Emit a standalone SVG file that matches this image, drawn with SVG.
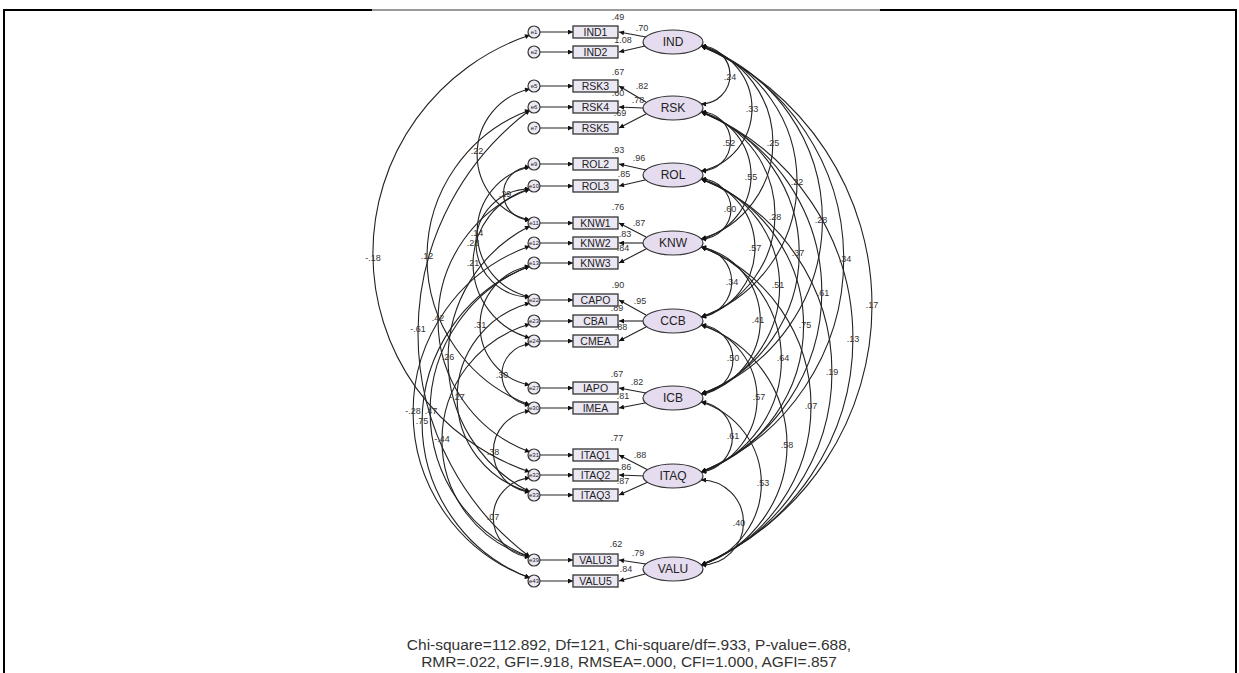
<svg xmlns="http://www.w3.org/2000/svg" width="1239" height="673" viewBox="0 0 1239 673">
<style>
.lbl{font-family:"Liberation Sans",Arial,sans-serif;font-size:9px;fill:#333;text-anchor:middle}
.box{fill:#ebe7f3;stroke:#333;stroke-width:1.3}
.ell{fill:#e6dcef;stroke:#333;stroke-width:1.2}
.err{fill:#ece8f4;stroke:#333;stroke-width:1.2}
.bt{font-family:"Liberation Sans",Arial,sans-serif;font-size:10.5px;fill:#222;text-anchor:middle}
.et{font-family:"Liberation Sans",Arial,sans-serif;font-size:12px;fill:#222;text-anchor:middle}
.ct{font-family:"Liberation Sans",Arial,sans-serif;font-size:6px;fill:#222;text-anchor:middle}
.con{fill:none;stroke:#222;stroke-width:1.1}
.cov{fill:none;stroke:#222;stroke-width:1.1;marker-start:url(#ah);marker-end:url(#ah)}
.one{marker-end:url(#ah)}
.fit{font-family:"Liberation Sans",Arial,sans-serif;font-size:15.5px;fill:#333;text-anchor:middle}
</style>
<defs>
<marker id="ah" viewBox="0 0 10 10" refX="10" refY="5" markerWidth="8" markerHeight="5" orient="auto-start-reverse" markerUnits="userSpaceOnUse"><path d="M0,0 L10,5 L0,10 z" fill="#111"/></marker>
</defs>
<rect width="1239" height="673" fill="#fff"/>
<g id="frame" fill="none" stroke="#000">
<path d="M4,673 V10 H372" stroke-width="2"/>
<path d="M372,10 H880" stroke-width="0.8"/>
<path d="M880,10 H1236 V673" stroke-width="2"/>
</g>

<g id="connectors">
<g class="con one">
<path d="M540,32 H573"/><path d="M540,52 H573"/><path d="M540,86 H573"/><path d="M540,107 H573"/><path d="M540,128 H573"/>
<path d="M540,164 H573"/><path d="M540,186 H573"/><path d="M540,223 H573"/><path d="M540,243 H573"/><path d="M540,263 H573"/>
<path d="M540,300 H573"/><path d="M540,321 H573"/><path d="M540,341 H573"/><path d="M540,388 H573"/><path d="M540,408 H573"/>
<path d="M540,455 H573"/><path d="M540,475 H573"/><path d="M540,495 H573"/><path d="M540,560 H573"/><path d="M540,581 H573"/>
</g>
<g class="con one">
<path d="M646,37 L619,32"/><path d="M645,46 L619,52"/>
<path d="M646,102 L619,86"/><path d="M643,108 L619,107"/><path d="M646,114 L619,128"/>
<path d="M646,170 L619,164"/><path d="M645,180 L619,186"/>
<path d="M646,237 L619,223"/><path d="M643,243 L619,243"/><path d="M646,249 L619,263"/>
<path d="M646,315 L619,300"/><path d="M643,321 L619,321"/><path d="M646,327 L619,341"/>
<path d="M646,393 L619,388"/><path d="M645,403 L619,408"/>
<path d="M648,470 L619,455"/><path d="M645,476 L619,475"/><path d="M648,482 L619,495"/>
<path d="M646,564 L619,560"/><path d="M645,574 L619,581"/>
</g>
<g class="cov">
<path d="M701,46 A29,29 0 0 1 701,104"/>
<path d="M701,46 A63.8,63.8 0 0 1 701,171"/>
<path d="M701,112 A29.5,29.5 0 0 1 701,171"/>
<path d="M701,46 A100.7,100.7 0 0 1 701,239"/>
<path d="M701,112 A65.3,65.3 0 0 1 701,239"/>
<path d="M701,46 A143.6,143.6 0 0 1 701,317"/>
<path d="M701,179 A30,30 0 0 1 701,239"/>
<path d="M701,112 A108,108 0 0 1 701,317"/>
<path d="M701,46 A185.4,185.4 0 0 1 701,394"/>
<path d="M701,179 A71.1,71.1 0 0 1 701,317"/>
<path d="M701,112 A150.3,150.3 0 0 1 701,394"/>
<path d="M701,46 A230.3,230.3 0 0 1 701,472"/>
<path d="M701,247 A35.3,35.3 0 0 1 701,317"/>
<path d="M701,179 A112.8,112.8 0 0 1 701,394"/>
<path d="M701,112 A194.5,194.5 0 0 1 701,472"/>
<path d="M701,46 A282.4,282.4 0 0 1 701,565"/>
<path d="M701,247 A75.2,75.2 0 0 1 701,394"/>
<path d="M701,179 A155.9,155.9 0 0 1 701,472"/>
<path d="M701,112 A244.8,244.8 0 0 1 701,565"/>
<path d="M701,325 A34.6,34.6 0 0 1 701,394"/>
<path d="M701,247 A118.9,118.9 0 0 1 701,472"/>
<path d="M701,179 A207.7,207.7 0 0 1 701,565"/>
<path d="M701,325 A76.2,76.2 0 0 1 701,472"/>
<path d="M701,247 A169.9,169.9 0 0 1 701,565"/>
<path d="M701,402 A35.2,35.2 0 0 1 701,472"/>
<path d="M701,325 A126.7,126.7 0 0 1 701,565"/>
<path d="M701,402 A85.2,85.2 0 0 1 701,565"/>
<path d="M701,480 A42.2,42.2 0 0 1 701,565"/>
</g>
<g class="cov">
<path d="M530,35 A230.5,230.5 0 0 0 530,472"/>
<path d="M530,110 A157.1,157.1 0 0 0 530,405"/>
<path d="M530,89 A67,67 0 0 0 530,220"/>
<path d="M530,167 A26.5,26.5 0 0 0 530,220"/>
<path d="M530,167 A66.4,66.4 0 0 0 530,297"/>
<path d="M530,189 A54,54 0 0 0 530,297"/>
<path d="M530,189 A77.2,77.2 0 0 0 530,338"/>
<path d="M530,189 A140,140 0 0 0 530,452"/>
<path d="M530,110 A279,279 0 0 0 530,557"/>
<path d="M530,266 A60.4,60.4 0 0 0 530,385"/>
<path d="M530,226 A148.9,148.9 0 0 0 530,492"/>
<path d="M530,344 A30.6,30.6 0 0 0 530,405"/>
<path d="M530,303 A97.7,97.7 0 0 0 530,492"/>
<path d="M530,246 A176.3,176.3 0 0 0 530,578"/>
<path d="M530,266 A155.9,155.9 0 0 0 530,557"/>
<path d="M530,266 A166.7,166.7 0 0 0 530,578"/>
<path d="M530,324 A121.1,121.1 0 0 0 530,557"/>
<path d="M530,411 A40.7,40.7 0 0 0 530,492"/>
<path d="M530,478 A39.6,39.6 0 0 0 530,557"/>
</g>
</g>

<g id="covariance-labels">
<text class="lbl" x="730" y="80">.24</text>
<text class="lbl" x="752" y="112">.33</text>
<text class="lbl" x="729" y="146">.52</text>
<text class="lbl" x="773" y="146">.25</text>
<text class="lbl" x="751" y="180">.55</text>
<text class="lbl" x="797" y="185">.22</text>
<text class="lbl" x="730" y="212">.60</text>
<text class="lbl" x="775" y="220">.28</text>
<text class="lbl" x="821" y="223">.28</text>
<text class="lbl" x="755" y="251">.57</text>
<text class="lbl" x="798" y="256">.37</text>
<text class="lbl" x="845" y="262">.34</text>
<text class="lbl" x="732" y="285">.34</text>
<text class="lbl" x="778" y="288">.51</text>
<text class="lbl" x="823" y="296">.61</text>
<text class="lbl" x="872" y="308">.17</text>
<text class="lbl" x="758" y="323">.41</text>
<text class="lbl" x="805" y="328">.75</text>
<text class="lbl" x="853" y="342">.13</text>
<text class="lbl" x="733" y="361">.50</text>
<text class="lbl" x="783" y="361">.64</text>
<text class="lbl" x="832" y="375">.19</text>
<text class="lbl" x="759" y="400">.57</text>
<text class="lbl" x="811" y="409">.07</text>
<text class="lbl" x="733" y="439">.61</text>
<text class="lbl" x="787" y="448">.58</text>
<text class="lbl" x="763" y="486">.53</text>
<text class="lbl" x="739" y="526">.40</text>
<text class="lbl" x="373" y="261">-.18</text>
<text class="lbl" x="427" y="259">.12</text>
<text class="lbl" x="477" y="154">.22</text>
<text class="lbl" x="505" y="197">.29</text>
<text class="lbl" x="477" y="236">.14</text>
<text class="lbl" x="473" y="246">.28</text>
<text class="lbl" x="473" y="266">.21</text>
<text class="lbl" x="438" y="321">.42</text>
<text class="lbl" x="418" y="332">-.61</text>
<text class="lbl" x="480" y="328">.31</text>
<text class="lbl" x="448" y="360">.26</text>
<text class="lbl" x="502" y="378">.30</text>
<text class="lbl" x="457" y="400">-.27</text>
<text class="lbl" x="413" y="414">-.28</text>
<text class="lbl" x="431" y="414">.47</text>
<text class="lbl" x="422" y="424">.75</text>
<text class="lbl" x="442" y="442">-.44</text>
<text class="lbl" x="493" y="455">.38</text>
<text class="lbl" x="493" y="520">.07</text>
</g>

<g id="loading-labels">
<text class="lbl" x="618" y="20">.49</text><text class="lbl" x="642" y="31">.70</text><text class="lbl" x="623" y="43">1.08</text>
<text class="lbl" x="618" y="75">.67</text><text class="lbl" x="642" y="89">.82</text><text class="lbl" x="618" y="96">.60</text><text class="lbl" x="638" y="103">.78</text><text class="lbl" x="620" y="116">.69</text>
<text class="lbl" x="618" y="153">.93</text><text class="lbl" x="639" y="161">.96</text><text class="lbl" x="624" y="177">.85</text>
<text class="lbl" x="618" y="210">.76</text><text class="lbl" x="639" y="226">.87</text><text class="lbl" x="625" y="237">.83</text><text class="lbl" x="623" y="251">.84</text>
<text class="lbl" x="618" y="288">.90</text><text class="lbl" x="640" y="304">.95</text><text class="lbl" x="617" y="311">.89</text><text class="lbl" x="621" y="330">.88</text>
<text class="lbl" x="617" y="377">.67</text><text class="lbl" x="637" y="385">.82</text><text class="lbl" x="623" y="399">.81</text>
<text class="lbl" x="617" y="441">.77</text><text class="lbl" x="640" y="458">.88</text><text class="lbl" x="625" y="470">.86</text><text class="lbl" x="623" y="484">.87</text>
<text class="lbl" x="616" y="547">.62</text><text class="lbl" x="638" y="556">.79</text><text class="lbl" x="626" y="572">.84</text>
</g>

<g id="e1"><circle class="err" cx="534" cy="32" r="6"/><text class="ct" x="534" y="34">e1</text></g>
<g id="e2"><circle class="err" cx="534" cy="52" r="6"/><text class="ct" x="534" y="54">e2</text></g>
<g id="e5"><circle class="err" cx="534" cy="86" r="6"/><text class="ct" x="534" y="88">e5</text></g>
<g id="e6"><circle class="err" cx="534" cy="107" r="6"/><text class="ct" x="534" y="109">e6</text></g>
<g id="e7"><circle class="err" cx="534" cy="128" r="6"/><text class="ct" x="534" y="130">e7</text></g>
<g id="e9"><circle class="err" cx="534" cy="164" r="6"/><text class="ct" x="534" y="166">e9</text></g>
<g id="e10"><circle class="err" cx="534" cy="186" r="6"/><text class="ct" x="534" y="188">e10</text></g>
<g id="e11"><circle class="err" cx="534" cy="223" r="6"/><text class="ct" x="534" y="225">e11</text></g>
<g id="e12"><circle class="err" cx="534" cy="243" r="6"/><text class="ct" x="534" y="245">e12</text></g>
<g id="e13"><circle class="err" cx="534" cy="263" r="6"/><text class="ct" x="534" y="265">e13</text></g>
<g id="e22"><circle class="err" cx="534" cy="300" r="6"/><text class="ct" x="534" y="302">e22</text></g>
<g id="e23"><circle class="err" cx="534" cy="321" r="6"/><text class="ct" x="534" y="323">e23</text></g>
<g id="e24"><circle class="err" cx="534" cy="341" r="6"/><text class="ct" x="534" y="343">e24</text></g>
<g id="e27"><circle class="err" cx="534" cy="388" r="6"/><text class="ct" x="534" y="390">e27</text></g>
<g id="e30"><circle class="err" cx="534" cy="408" r="6"/><text class="ct" x="534" y="410">e30</text></g>
<g id="e31"><circle class="err" cx="534" cy="455" r="6"/><text class="ct" x="534" y="457">e31</text></g>
<g id="e32"><circle class="err" cx="534" cy="475" r="6"/><text class="ct" x="534" y="477">e32</text></g>
<g id="e33"><circle class="err" cx="534" cy="495" r="6"/><text class="ct" x="534" y="497">e33</text></g>
<g id="e39"><circle class="err" cx="534" cy="560" r="6"/><text class="ct" x="534" y="562">e39</text></g>
<g id="e43"><circle class="err" cx="534" cy="581" r="6"/><text class="ct" x="534" y="583">e43</text></g>

<g id="IND1"><rect class="box" x="573" y="26" width="45" height="12"/><text class="bt" x="595.5" y="36">IND1</text></g>
<g id="IND2"><rect class="box" x="573" y="46" width="45" height="12"/><text class="bt" x="595.5" y="56">IND2</text></g>
<g id="RSK3"><rect class="box" x="573" y="80" width="45" height="12"/><text class="bt" x="595.5" y="90">RSK3</text></g>
<g id="RSK4"><rect class="box" x="573" y="101" width="45" height="12"/><text class="bt" x="595.5" y="111">RSK4</text></g>
<g id="RSK5"><rect class="box" x="573" y="122" width="45" height="12"/><text class="bt" x="595.5" y="132">RSK5</text></g>
<g id="ROL2"><rect class="box" x="573" y="158" width="45" height="12"/><text class="bt" x="595.5" y="168">ROL2</text></g>
<g id="ROL3"><rect class="box" x="573" y="180" width="45" height="12"/><text class="bt" x="595.5" y="190">ROL3</text></g>
<g id="KNW1"><rect class="box" x="573" y="217" width="45" height="12"/><text class="bt" x="595.5" y="227">KNW1</text></g>
<g id="KNW2"><rect class="box" x="573" y="237" width="45" height="12"/><text class="bt" x="595.5" y="247">KNW2</text></g>
<g id="KNW3"><rect class="box" x="573" y="257" width="45" height="12"/><text class="bt" x="595.5" y="267">KNW3</text></g>
<g id="CAPO"><rect class="box" x="573" y="294" width="45" height="12"/><text class="bt" x="595.5" y="304">CAPO</text></g>
<g id="CBAI"><rect class="box" x="573" y="315" width="45" height="12"/><text class="bt" x="595.5" y="325">CBAI</text></g>
<g id="CMEA"><rect class="box" x="573" y="335" width="45" height="12"/><text class="bt" x="595.5" y="345">CMEA</text></g>
<g id="IAPO"><rect class="box" x="573" y="382" width="45" height="12"/><text class="bt" x="595.5" y="392">IAPO</text></g>
<g id="IMEA"><rect class="box" x="573" y="402" width="45" height="12"/><text class="bt" x="595.5" y="412">IMEA</text></g>
<g id="ITAQ1"><rect class="box" x="573" y="449" width="45" height="12"/><text class="bt" x="595.5" y="459">ITAQ1</text></g>
<g id="ITAQ2"><rect class="box" x="573" y="469" width="45" height="12"/><text class="bt" x="595.5" y="479">ITAQ2</text></g>
<g id="ITAQ3"><rect class="box" x="573" y="489" width="45" height="12"/><text class="bt" x="595.5" y="499">ITAQ3</text></g>
<g id="VALU3"><rect class="box" x="573" y="554" width="45" height="12"/><text class="bt" x="595.5" y="564">VALU3</text></g>
<g id="VALU5"><rect class="box" x="573" y="575" width="45" height="12"/><text class="bt" x="595.5" y="585">VALU5</text></g>

<g id="IND"><ellipse class="ell" cx="673" cy="42" rx="30" ry="12"/><text class="et" x="673" y="46">IND</text></g>
<g id="RSK"><ellipse class="ell" cx="673" cy="108" rx="30" ry="12"/><text class="et" x="673" y="112">RSK</text></g>
<g id="ROL"><ellipse class="ell" cx="673" cy="175" rx="30" ry="12"/><text class="et" x="673" y="179">ROL</text></g>
<g id="KNW"><ellipse class="ell" cx="673" cy="243" rx="30" ry="12"/><text class="et" x="673" y="247">KNW</text></g>
<g id="CCB"><ellipse class="ell" cx="673" cy="321" rx="30" ry="12"/><text class="et" x="673" y="325">CCB</text></g>
<g id="ICB"><ellipse class="ell" cx="673" cy="398" rx="30" ry="12"/><text class="et" x="673" y="402">ICB</text></g>
<g id="ITAQ"><ellipse class="ell" cx="673" cy="476" rx="30" ry="12"/><text class="et" x="673" y="480">ITAQ</text></g>
<g id="VALU"><ellipse class="ell" cx="673" cy="569" rx="30" ry="12"/><text class="et" x="673" y="573">VALU</text></g>

<g id="fit-indices">
<text class="fit" x="629" y="650">Chi-square=112.892, Df=121, Chi-square/df=.933, P-value=.688,</text>
<text class="fit" x="629" y="667">RMR=.022, GFI=.918, RMSEA=.000, CFI=1.000, AGFI=.857</text>
</g>
</svg>
